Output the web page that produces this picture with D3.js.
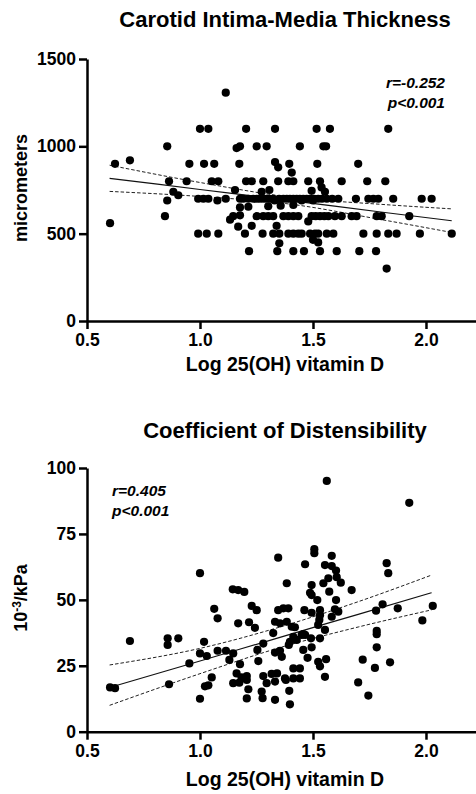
<!DOCTYPE html>
<html>
<head>
<meta charset="utf-8">
<script src="https://cdn.jsdelivr.net/npm/d3@7"></script>
<style>
  html, body { margin: 0; padding: 0; background: #fff; }
  svg { display: block; }
  text { font-family: "Liberation Sans", Arial, sans-serif; fill: #000; }
</style>
</head>
<body>
<svg id="chart" width="476" height="794"></svg>
<script>
// ---------------- DATA ----------------
const xTicks = [0.5, 1.0, 1.5, 2.0];

// Panel 1: Carotid Intima-Media Thickness (micrometers) vs Log 25(OH) vitamin D
const cimtX = [
  1.000, 1.037, 1.204, 1.332, 1.516, 1.575, 1.833,
  1.114,
  0.855, 1.162, 1.177, 1.251, 1.295, 1.442, 1.546, 1.558,
  0.624, 0.690, 0.953, 1.018, 1.063, 1.174, 1.332, 1.346, 1.395, 1.406, 1.519, 1.700,
  0.863, 0.941, 1.052, 1.081, 1.204, 1.229, 1.280, 1.346, 1.391, 1.413, 1.479, 1.531, 1.627, 1.740, 1.820,
  1.155, 1.273, 1.307, 1.494, 1.538, 1.553, 0.882,
  0.904, 0.855, 0.992, 1.015, 1.037, 1.077, 1.114, 1.177, 1.192, 1.214, 1.236, 1.251, 1.265, 1.280, 1.295,
  1.310, 1.324, 1.350, 1.369, 1.384, 1.398, 1.413, 1.428, 1.442, 1.457, 1.472, 1.487, 1.505, 1.523, 1.540,
  1.561, 1.585, 1.612, 1.690, 1.745, 1.767, 1.789, 1.855, 1.981, 2.025, 1.330, 1.450, 1.500,
  1.177, 1.214, 1.302, 1.357, 1.413,
  0.845, 1.133, 1.147, 1.177, 1.251, 1.280, 1.302, 1.324, 1.369, 1.391, 1.413, 1.435, 1.494, 1.512, 1.531,
  1.550, 1.568, 1.597, 1.627, 1.671, 1.693, 1.782, 1.804, 1.926,
  0.602,
  1.169, 1.229, 1.339, 1.479,
  0.992, 1.030, 1.081, 1.199, 1.277, 1.324, 1.351, 1.391, 1.413, 1.435, 1.450, 1.487, 1.509, 1.523, 1.561,
  1.590, 1.723, 1.782, 1.833, 1.870, 1.973, 2.114,
  1.351, 1.500, 1.523,
  1.217, 1.342, 1.413, 1.460, 1.531, 1.605, 1.705, 1.779,
  1.826
];
const cimtY = [
  1100, 1100, 1100, 1100, 1100, 1100, 1100,
  1307,
  1000, 990, 1000, 1000, 1000, 1000, 1000, 1000,
  900, 920, 900, 900, 900, 900, 910, 880, 900, 850, 900, 900,
  800, 800, 800, 800, 800, 800, 800, 800, 800, 800, 800, 800, 800, 800, 800,
  750, 740, 750, 745, 765, 740, 740,
  720, 690, 700, 700, 700, 690, 700, 700, 700, 700, 700, 700, 700, 700, 700,
  700, 700, 700, 700, 700, 700, 700, 700, 700, 700, 700, 700, 700, 700, 700,
  700, 700, 700, 700, 700, 700, 700, 700, 700, 700, 690, 690, 690,
  650, 654, 657, 660, 664,
  600, 580, 600, 605, 600, 600, 600, 600, 600, 600, 600, 600, 600, 600, 600,
  600, 600, 600, 600, 600, 600, 600, 600, 600,
  560,
  540, 545, 545, 570,
  500, 500, 500, 500, 500, 500, 500, 500, 500, 500, 500, 500, 500, 500, 500,
  500, 500, 500, 500, 500, 500, 500,
  445, 465, 450,
  400, 400, 400, 400, 400, 400, 400, 400,
  300
];
const cimtTicks = [0, 500, 1000, 1500];
// regression line and 95% confidence band
const cimtFitX = [0.6, 1.0, 1.4, 1.8, 2.114];
const cimtFit = [817, 753, 689, 624, 574];
const cimtUpper = [892, 793, 709, 668, 642];
const cimtLower = [742, 713, 669, 581, 507];

// Panel 2: Coefficient of Distensibility (10^-3/kPa) vs Log 25(OH) vitamin D
const cdX = [
  0.602, 0.624, 0.690, 0.857, 0.857, 0.863, 0.904, 0.953, 1.000, 1.000, 1.000, 1.018, 1.022, 1.030, 1.037,
  1.052, 1.063, 1.078, 1.078, 1.115, 1.130, 1.145, 1.147, 1.147, 1.162, 1.169, 1.169, 1.174, 1.177, 1.184,
  1.196, 1.207, 1.207, 1.207, 1.214, 1.217, 1.229, 1.243, 1.251, 1.254, 1.258, 1.280, 1.273, 1.277, 1.280,
  1.295, 1.317, 1.324, 1.332, 1.332, 1.332, 1.332, 1.346, 1.346, 1.341, 1.354, 1.354, 1.362, 1.369, 1.380,
  1.384, 1.384, 1.391, 1.393, 1.395, 1.398, 1.406, 1.413, 1.413, 1.413, 1.420, 1.428, 1.442, 1.442, 1.450,
  1.462, 1.465, 1.476, 1.487, 1.491, 1.494, 1.494, 1.494, 1.494, 1.506, 1.506, 1.519, 1.523, 1.528, 1.531,
  1.531, 1.531, 1.523, 1.531, 1.546, 1.553, 1.553, 1.553, 1.558, 1.561, 1.568, 1.572, 1.583, 1.583, 1.583,
  1.597, 1.602, 1.602, 1.605, 1.612, 1.623, 1.671, 1.700, 1.720, 1.745, 1.774, 1.779, 1.782, 1.782, 1.782,
  1.808, 1.826, 1.833, 1.841, 1.875, 1.926, 1.984, 2.030,
  1.457, 1.398, 1.457, 1.465, 1.376
];
const cdY = [
  16.8, 16.5, 34.4, 35.4, 32.9, 18.0, 35.4, 25.9, 60.1, 29.7, 12.5, 34.1, 17.2, 28.7, 17.6,
  20.6, 46.6, 43.0, 30.7, 30.7, 27.2, 54.0, 29.7, 18.4, 22.1, 53.7, 41.1, 18.6, 25.6, 20.6,
  53.0, 21.1, 19.6, 12.6, 16.1, 41.5, 47.7, 39.4, 46.1, 31.0, 26.8, 33.4, 15.2, 12.7, 21.1,
  18.4, 21.9, 37.4, 41.7, 30.0, 19.0, 12.1, 66.0, 46.1, 22.1, 41.1, 30.7, 28.4, 46.8, 19.6,
  56.3, 41.7, 46.8, 32.9, 15.5, 10.4, 39.8, 36.0, 24.0, 20.2, 39.6, 34.8, 24.0, 20.2, 36.7,
  46.1, 63.5, 28.0, 52.7, 35.4, 55.6, 51.8, 45.1, 32.0, 69.2, 67.7, 49.9, 40.5, 42.4, 46.1,
  44.2, 35.4, 26.5, 24.8, 56.3, 63.2, 38.6, 20.8, 27.5, 95.1, 58.2, 53.1, 66.7, 62.8, 43.6,
  46.4, 61.1, 49.9, 58.6, 45.5, 56.5, 53.7, 18.7, 27.3, 13.7, 24.2, 45.9, 38.2, 37.0, 32.0,
  48.3, 63.9, 60.1, 26.3, 46.8, 86.8, 42.2, 47.7,
  37.0, 34.1, 31.0, 36.7, 20.2
];
const cdTicks = [0, 25, 50, 75, 100];
const cdFitX = [0.6, 1.0, 1.35, 1.7, 2.025];
const cdFit = [16.75, 26.8, 35.7, 44.5, 52.7];
const cdUpper = [25.3, 31.6, 39.6, 49.3, 59.4];
const cdLower = [10.0, 22.0, 31.8, 39.7, 46.2];

// ---------------- DRAW ----------------
const svg = d3.select("#chart");
const FONT = '"Liberation Sans", Arial, sans-serif';

function panel(cfg) {
  const g = svg.append("g");
  const x = d3.scaleLinear().domain([0.5, 2.22]).range([87, 475.7]);
  const y = d3.scaleLinear().domain(cfg.yDomain).range([cfg.y0, cfg.y1]);

  // title
  g.append("text")
    .attr("x", 285).attr("y", cfg.titleY)
    .attr("text-anchor", "middle")
    .style("font-size", "22px").style("font-weight", "bold")
    .text(cfg.title);

  // confidence band + fit
  const line = d3.line().x(d => x(d[0])).y(d => y(d[1])).curve(d3.curveMonotoneX);
  const mk = arr => cfg.fitX.map((v, i) => [v, arr[i]]);
  g.append("path").attr("d", line(mk(cfg.upper)))
    .attr("fill", "none").attr("stroke", "#222").attr("stroke-width", 1)
    .attr("stroke-dasharray", "3.5,2");
  g.append("path").attr("d", line(mk(cfg.lower)))
    .attr("fill", "none").attr("stroke", "#222").attr("stroke-width", 1)
    .attr("stroke-dasharray", "3.5,2");
  g.append("path").attr("d", line(mk(cfg.fit)))
    .attr("fill", "none").attr("stroke", "#111").attr("stroke-width", 1.2);

  // points
  g.append("g").selectAll("circle")
    .data(cfg.xs.map((v, i) => [v, cfg.ys[i]]))
    .join("circle")
    .attr("cx", d => x(d[0])).attr("cy", d => y(d[1]))
    .attr("r", 4.1).attr("fill", "#000");

  // axes
  const xAxis = d3.axisBottom(x).tickValues(xTicks).tickFormat(d3.format(".1f"))
    .tickSize(8).tickSizeOuter(0).tickPadding(5);
  const yAxis = d3.axisLeft(y).tickValues(cfg.yTicks).tickFormat(d3.format("d"))
    .tickSize(8).tickSizeOuter(0).tickPadding(3);
  const ya = g.append("g").attr("transform", "translate(87,0)").call(yAxis);
  const xa = g.append("g").attr("transform", `translate(0,${cfg.y0})`).call(xAxis);
  [xa, ya].forEach(a => {
    a.selectAll("path, line").attr("stroke", "#000").attr("stroke-width", 2.5);
    a.selectAll("text").style("font-family", FONT).style("font-size", "17.5px")
      .style("font-weight", "bold").attr("fill", "#000");
  });

  // x label
  g.append("text")
    .attr("x", 285).attr("y", cfg.xLabelY)
    .attr("text-anchor", "middle")
    .style("font-size", "19.5px").style("font-weight", "bold")
    .text("Log 25(OH) vitamin D");

  // y label
  const yl = g.append("text")
    .attr("transform", `translate(${cfg.yLabelX},${cfg.yLabelCY}) rotate(-90)`)
    .attr("text-anchor", "middle")
    .style("font-size", "18px").style("font-weight", "bold");
  cfg.yLabel(yl);

  // stats annotation
  const an = g.append("text")
    .attr("text-anchor", cfg.annAnchor)
    .style("font-size", "15.5px").style("font-weight", "bold").style("font-style", "italic");
  an.append("tspan").attr("x", cfg.annX).attr("y", cfg.annY).text(cfg.r);
  an.append("tspan").attr("x", cfg.annX).attr("y", cfg.annY + 20).text("p<0.001");
}

panel({
  title: "Carotid Intima-Media Thickness", titleY: 27,
  yDomain: [0, 1500], y0: 321, y1: 59, yTicks: cimtTicks,
  xs: cimtX, ys: cimtY,
  fitX: cimtFitX, fit: cimtFit, upper: cimtUpper, lower: cimtLower,
  xLabelY: 371, yLabelX: 27, yLabelCY: 188,
  yLabel: t => t.text("micrometers"),
  r: "r=-0.252", annX: 445, annY: 88, annAnchor: "end"
});

panel({
  title: "Coefficient of Distensibility", titleY: 438,
  yDomain: [0, 100], y0: 731.7, y1: 468, yTicks: cdTicks,
  xs: cdX, ys: cdY,
  fitX: cdFitX, fit: cdFit, upper: cdUpper, lower: cdLower,
  xLabelY: 786, yLabelX: 27, yLabelCY: 598,
  yLabel: t => {
    t.append("tspan").text("10");
    t.append("tspan").attr("dy", -6).style("font-size", "12px").text("-3");
    t.append("tspan").attr("dy", 6).text("/kPa");
  },
  r: "r=0.405", annX: 112, annY: 496, annAnchor: "start"
});
</script>
</body>
</html>
